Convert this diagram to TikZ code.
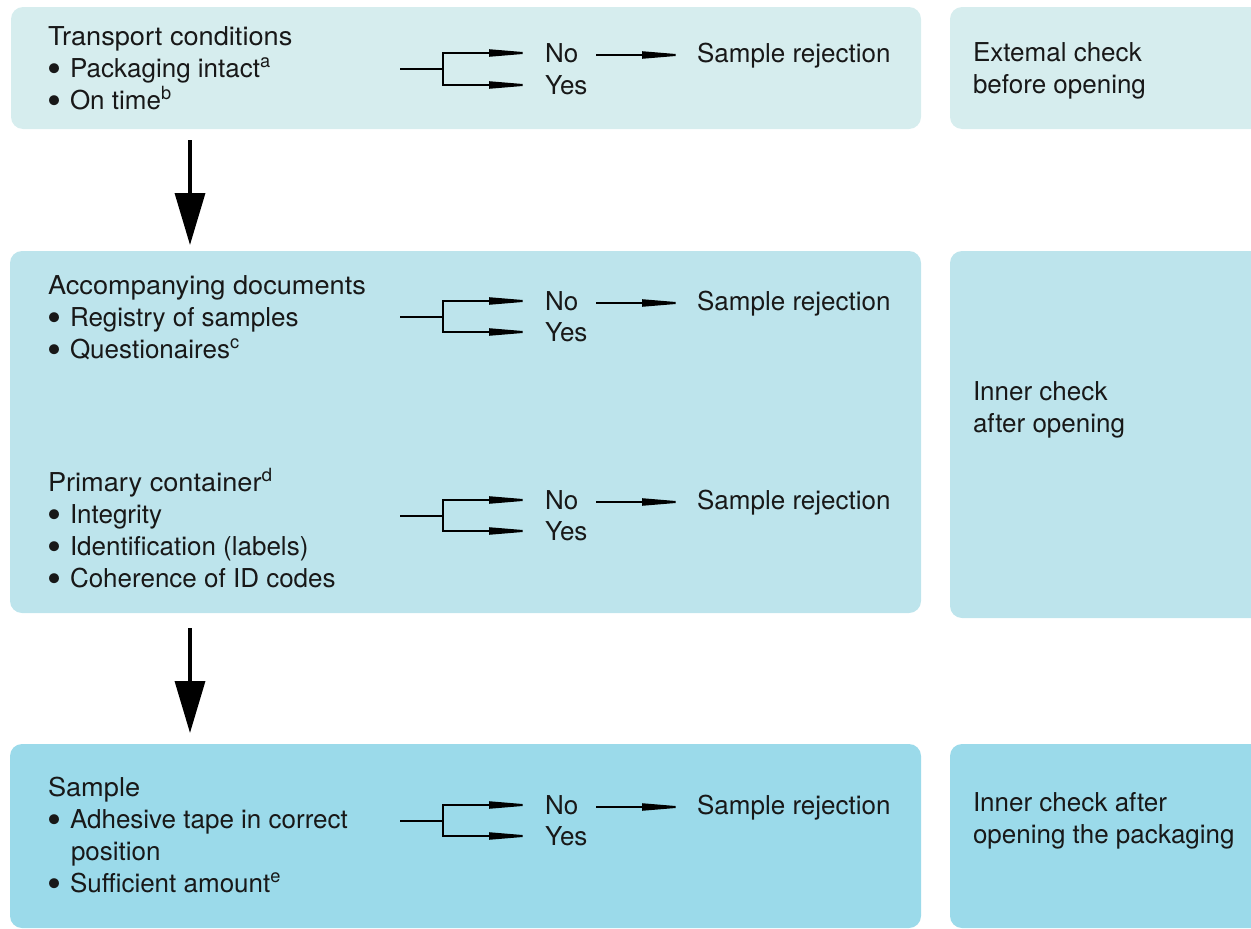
\documentclass[tikz,border=0pt]{standalone}
\usepackage{fontspec}
\usepackage{graphicx}
\setmainfont{TeX Gyre Heros}
\newfontfamily\headfont[FakeStretch=1.045]{TeX Gyre Heros}
\usetikzlibrary{arrows.meta}
\definecolor{cA}{RGB}{214,237,238}
\definecolor{cB}{RGB}{189,228,236}
\definecolor{cC}{RGB}{155,218,234}
\definecolor{ink}{RGB}{24,24,24}
\newcommand{\bul}{\makebox[20pt][l]{\hspace*{-2pt}\smash{\raisebox{-5.5pt}{\scalebox{1.54}{\textbullet}}}}}
\newcommand{\ind}{\hspace*{21pt}}
\begin{document}
\begin{tikzpicture}[x=1pt,y=-1pt,
  panel/.style={rounded corners=12pt, draw=none, anchor=north west, inner sep=0pt, outer sep=0pt},
  txt/.style={anchor=base west, inner sep=0pt, outer sep=0pt, font=\fontsize{26}{32}\selectfont, text=ink},
  head/.style={txt, font=\headfont\fontsize{26}{32}\selectfont},
  thinarrow/.style={line width=2pt, draw=black, -{Triangle[length=47pt,width=7pt]}},
  stemline/.style={line width=2pt, draw=black},
  bigarrow/.style={line width=3.5pt, draw=black, -{Triangle[length=52pt,width=30pt]}}
]
\useasboundingbox (0,0) rectangle (1251,929);
\clip (0,0) rectangle (1251,929);

% panels
\node[panel, fill=cA, minimum width=910pt, minimum height=122pt] (pA) at (11,7) {};
\node[panel, fill=cA, minimum width=330pt, minimum height=122pt] (rA) at (950,7) {};
\node[panel, fill=cB, minimum width=911pt, minimum height=362pt] (pB) at (10,251) {};
\node[panel, fill=cB, minimum width=330pt, minimum height=367pt] (rB) at (950,251) {};
\node[panel, fill=cC, minimum width=911pt, minimum height=184pt] (pC) at (10,744) {};
\node[panel, fill=cC, minimum width=330pt, minimum height=184pt] (rC) at (950,744) {};

% left texts
\node[head] (h1) at (48,45) {Transport conditions};
\node[txt] (h1a) at (50,77) {\bul Packaging intact\textsuperscript{a}};
\node[txt] (h1b) at (50,109) {\bul On time\textsuperscript{b}};

\node[head] (h2) at (48,294) {Accompanying documents};
\node[txt] (h2a) at (50,326) {\bul Registry of samples};
\node[txt] (h2b) at (50,358) {\bul Questionaires\textsuperscript{c}};

\node[head] (h3) at (48,491) {Primary container\textsuperscript{d}};
\node[txt] (h3a) at (50,523) {\bul Integrity};
\node[txt] (h3b) at (50,555) {\bul Identification (labels)};
\node[txt] (h3c) at (50,587) {\bul Coherence of ID codes};

\node[head] (h4) at (48,796) {Sample};
\node[txt] (h4a) at (50,828) {\bul Adhesive tape in correct};
\node[txt] (h4b) at (50,860) {\ind position};
\node[txt] (h4c) at (50,892) {\bul Sufficient amount\textsuperscript{e}};

% right texts
\node[txt] (r1a) at (973,61) {Extemal check};
\node[txt] (r1b) at (973,93) {before opening};
\node[txt] (r2a) at (973,400) {Inner check};
\node[txt] (r2b) at (973,432) {after opening};
\node[txt] (r3a) at (973,811) {Inner check after};
\node[txt] (r3b) at (973,843) {opening the packaging};

% decision forks
\foreach \i/\ny/\yy in {1/53/85, 2/301/332, 3/500/531, 4/805/836}{
  \pgfmathsetmacro{\my}{(\ny+\yy)/2}
  \coordinate (s\i) at (400,\my);
  \coordinate (f\i) at (443,\my);
  \coordinate (an\i) at (536,\ny);
  \coordinate (ay\i) at (536,\yy);
  \node[txt] (no\i) at (545,\ny+9) {No};
  \node[txt] (yes\i) at (545,\yy+9) {Yes};
  \coordinate (rs\i) at (596,\ny+2);
  \coordinate (re\i) at (689,\ny+2);
  \node[txt] (rej\i) at (697,\ny+9) {Sample rejection};
  \draw[stemline] (s\i) -- (f\i);
  \draw[thinarrow] (f\i) |- (an\i);
  \draw[thinarrow] (f\i) |- (ay\i);
  \draw[thinarrow] (rs\i) -- (re\i);
}

% flow arrows
\coordinate (d1s) at (190,140);
\coordinate (d1e) at (190,245);
\coordinate (d2s) at (190,628);
\coordinate (d2e) at (190,733);
\draw[bigarrow] (d1s) -- (d1e);
\draw[bigarrow] (d2s) -- (d2e);
\end{tikzpicture}
\end{document}
